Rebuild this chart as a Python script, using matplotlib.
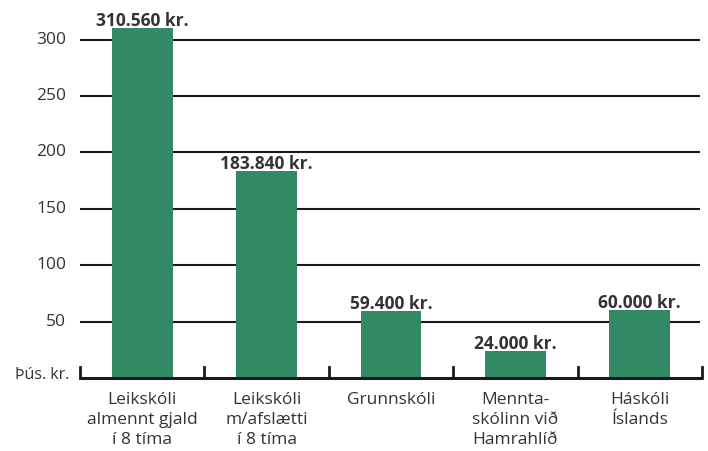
import matplotlib
matplotlib.use("Agg")
import matplotlib.pyplot as plt

categories = ["Leikskóli\nalmennt gjald\ní 8 tíma",
              "Leikskóli\nm/afslætti\ní 8 tíma",
              "Grunnskóli",
              "Mennta-\nskólinn við\nHamrahlíð",
              "Háskóli\nÍslands"]
values = [310.56, 183.84, 59.4, 24.0, 60.0]
value_labels = ["310.560 kr.", "183.840 kr.", "59.400 kr.", "24.000 kr.", "60.000 kr."]
yticks = [50, 100, 150, 200, 250, 300]
unit_label = "Þús. kr."

plt.rcParams['font.family'] = ['Open Sans', 'DejaVu Sans']
text_color = "#333333"
bar_color = "#318a64"

fig = plt.figure(figsize=(7.08, 4.51), dpi=100)
ax = fig.add_axes([80/708, (451-378)/451, 622/708, 378/451])
ax.set_xlim(-0.5, len(categories) - 0.5)
ax.set_ylim(0, 378/1.128)
ax.axis("off")

x = list(range(len(categories)))
# gridlines
ax.hlines(yticks, -0.54, len(categories) - 0.52, color="#1a1a1a", lw=1.5, zorder=1)
# bars
ax.bar(x, values, width=0.49, color=bar_color, zorder=2)
# baseline and boundary ticks
ax.plot([-0.5, len(categories) - 0.5], [0, 0], color="#1a1a1a", lw=2.2,
        solid_capstyle="butt", zorder=3, clip_on=False)
for b in [i - 0.5 for i in range(len(categories) + 1)]:
    ax.plot([b, b], [0, 10], color="#1a1a1a", lw=2.0, zorder=3, clip_on=False)

# value labels
for xi, v, lab in zip(x, values, value_labels):
    ax.annotate(lab, (xi, v), xytext=(0, 1.5), textcoords="offset points",
                ha="center", va="baseline", fontsize=12.5, fontweight="bold",
                color=text_color, clip_on=False, zorder=4)

# y tick labels
for t in yticks:
    ax.annotate(str(t), (-0.5, t), xytext=(-10, 0), textcoords="offset points",
                ha="right", va="center", fontsize=12.5, color=text_color)
ax.annotate(unit_label, (-0.5, 0), xytext=(-8, 2), textcoords="offset points",
            ha="right", va="center", fontsize=11.5, color=text_color)

# category labels
for xi, c in zip(x, categories):
    ax.annotate(c, (xi, 0), xytext=(0, -10), textcoords="offset points",
                ha="center", va="top", fontsize=12.5, color=text_color,
                linespacing=1.32)

fig.savefig("out.png", dpi=100)
